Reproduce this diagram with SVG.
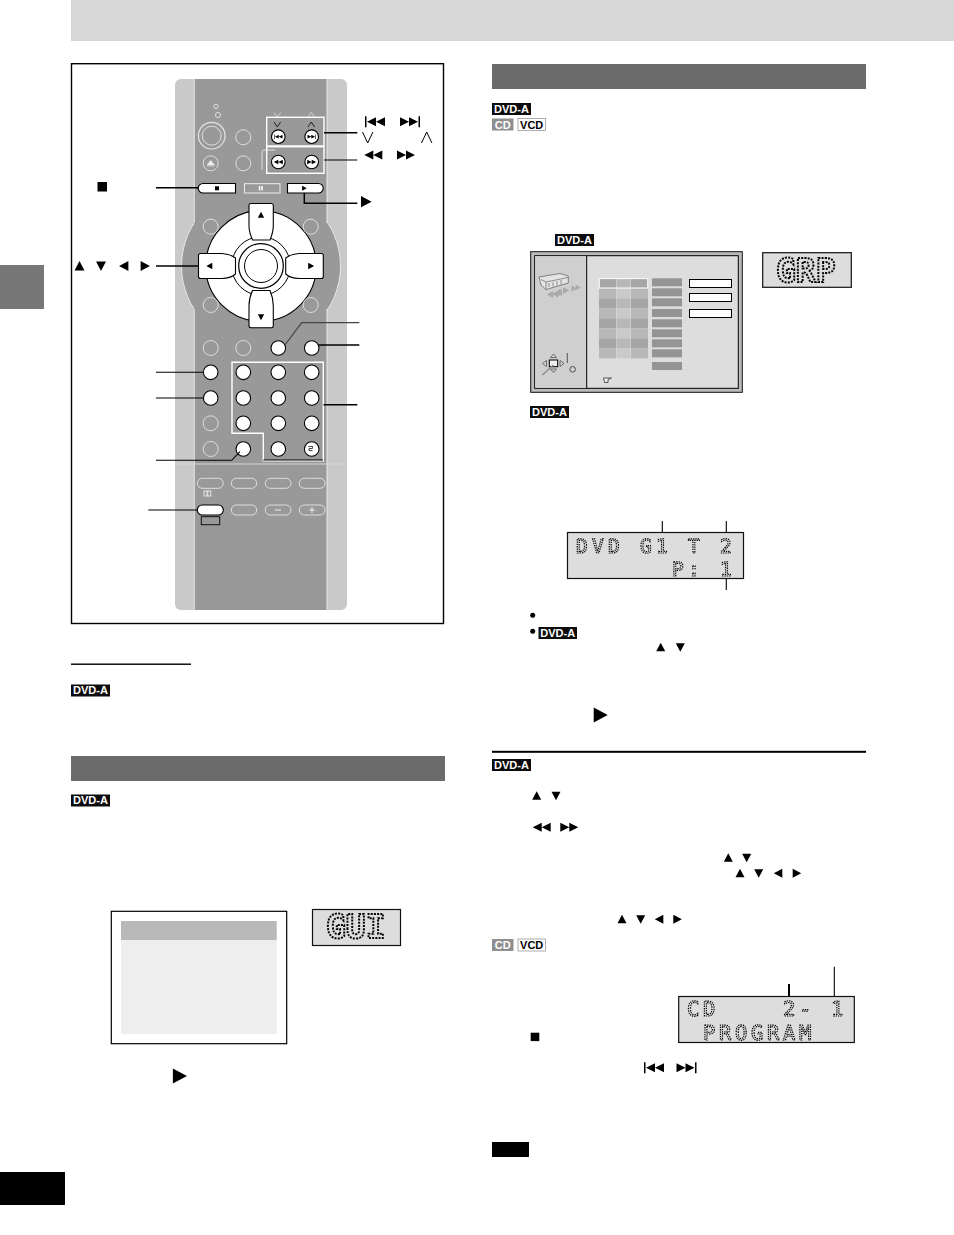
<svg xmlns="http://www.w3.org/2000/svg" width="954" height="1235" viewBox="0 0 954 1235">
<style>
.bar{fill:#6b6b6b}
.badge{fill:#0c0c0c}
.bt{font-family:"Liberation Sans",Arial,sans-serif;font-weight:bold;font-size:11px;fill:#fff;text-anchor:middle}
.vt{font-family:"Liberation Sans",Arial,sans-serif;font-weight:bold;font-size:11px;fill:#000;text-anchor:middle}
.on{fill:#fff;stroke:#000;stroke-width:1.1}
.off{fill:none;stroke:#e4e4e4;stroke-width:.9}
.wl{fill:none;stroke:#fff;stroke-width:1.4}
.ld{fill:none;stroke:#000;stroke-width:1.5}
.th{fill:none;stroke:#000;stroke-width:1.1}
.lcd{fill:#ddd;stroke:#111;stroke-width:1.2}
.dm{font-family:"DejaVu Sans Mono",monospace;font-size:19.5px;fill:none;stroke:#000;stroke-width:1.2;stroke-dasharray:1.3 1;letter-spacing:4.26px;text-rendering:geometricPrecision}
.dc{font-family:"DejaVu Sans Mono",monospace;font-size:20.5px;fill:none;stroke:#000;stroke-width:1.2;stroke-dasharray:1.3 1;letter-spacing:3.66px;text-rendering:geometricPrecision}
.db{font-family:"DejaVu Sans Mono",monospace;font-weight:bold;font-size:33px;fill:none;stroke:#000;stroke-width:2;stroke-dasharray:2 1.2;text-rendering:geometricPrecision}
.g1{fill:#a6a6a6}.g2{fill:#b8b8b8}.g3{fill:#cacaca}
.gb{fill:#949494}
</style>
<defs>
<filter id="gray" x="-5%" y="-5%" width="110%" height="110%" color-interpolation-filters="sRGB"><feOffset dx="0" dy="0"/></filter>
<polygon id="u" points="-4.5,4 0,-4.5 4.5,4"/>
<polygon id="d" points="-4.5,-4 0,4.5 4.5,-4"/>
<polygon id="l" points="4,-4.5 -4.5,0 4,4.5"/>
<polygon id="r" points="-4,-4.5 4.5,0 -4,4.5"/>
<path id="rr" d="M-9,-4.5 L0,0 L-9,4.5Z M0,-4.5 L9,0 L0,4.5Z"/>
<path id="ll" d="M9,-4.5 L0,0 L9,4.5Z M0,-4.5 L-9,0 L0,4.5Z"/>
<path id="nx" d="M-10,-4.5 L-1,0 L-10,4.5Z M-1,-4.5 L8,0 L-1,4.5Z M8.5,-5.5H10V5.5H8.5Z"/>
<path id="pv" d="M10,-4.5 L1,0 L10,4.5Z M1,-4.5 L-8,0 L1,4.5Z M-10,-5.5H-8.5V5.5H-10Z"/>
</defs>

<g id="page-bands">
<rect x="71" y="0" width="883" height="41" fill="#d7d7d7"/>
<rect x="0" y="265" width="44" height="44" fill="#777"/>
<rect x="0" y="1172" width="65" height="33" fill="#000"/>
<rect class="bar" x="492" y="64" width="374" height="25"/>
<rect class="bar" x="71" y="756" width="374" height="25"/>
<rect x="71" y="663.5" width="120" height="1.4" fill="#000"/>
<rect x="492" y="750.8" width="374" height="2" fill="#000"/>
</g>

<g id="badges">
<rect class="badge" x="492" y="103" width="39" height="12"/><text class="bt" x="511.5" y="112.8">DVD-A</text>
<rect x="492" y="118.5" width="21.5" height="12" fill="#8f8f8f"/><text class="bt" x="502.7" y="128.5">CD</text>
<rect x="518" y="118.5" width="27.5" height="12" fill="#fff" stroke="#999" stroke-width=".8"/><text class="vt" x="531.7" y="128.5">VCD</text>
<rect class="badge" x="555" y="234" width="39" height="12"/><text class="bt" x="574.5" y="243.8">DVD-A</text>
<rect class="badge" x="530" y="406" width="39" height="12"/><text class="bt" x="549.5" y="415.8">DVD-A</text>
<rect class="badge" x="538.5" y="627" width="38.5" height="12"/><text class="bt" x="557.7" y="636.8">DVD-A</text>
<rect class="badge" x="492" y="759" width="39" height="12"/><text class="bt" x="511.5" y="768.8">DVD-A</text>
<rect x="492" y="939" width="21.5" height="12" fill="#8f8f8f"/><text class="bt" x="502.7" y="949">CD</text>
<rect x="518" y="939" width="27.5" height="12" fill="#fff" stroke="#999" stroke-width=".8"/><text class="vt" x="531.7" y="949">VCD</text>
<rect class="badge" x="71" y="684.5" width="39" height="12"/><text class="bt" x="90.5" y="694.3">DVD-A</text>
<rect class="badge" x="71" y="794.5" width="39" height="12"/><text class="bt" x="90.5" y="804.3">DVD-A</text>
<rect x="492" y="1142" width="37" height="15" fill="#000"/>
</g>

<g id="remote">
<rect x="71.5" y="63.7" width="372" height="559.8" fill="#fff" stroke="#000" stroke-width="1.4"/>
<rect x="175" y="79" width="172" height="531" rx="6" fill="#c9c9c9"/>
<circle cx="261" cy="266" r="79.5" fill="#999" stroke="#e6e6e6" stroke-width="1"/>
<rect x="194" y="79" width="133" height="531" fill="#999"/>
<path d="M194.3 79V223M194.3 309V610M327 79V223M327 309V610" stroke="#eee" stroke-width=".9" fill="none"/>
<path d="M175 464H347" stroke="#d5d5d5" stroke-width="1"/>

<circle class="off" cx="216" cy="106.5" r="2.2"/>
<circle class="off" cx="218" cy="115" r="2.6"/>
<circle class="off" cx="211.7" cy="135.7" r="13.3" style="stroke-width:1.2"/>
<circle class="off" cx="211.7" cy="135.7" r="9.5"/>
<circle class="off" cx="243.3" cy="137.3" r="7.5"/>
<circle class="off" cx="210.7" cy="163.3" r="7.5"/>
<path d="M207 165 L210.7 160.5 L214.4 165Z M207 166H214.4" fill="#eee" stroke="#eee" stroke-width=".6"/>
<circle class="off" cx="243.3" cy="163.3" r="7.5"/>
<path d="M262 170V152Q262 150 264 150H275" fill="none" stroke="#e8e8e8" stroke-width=".9"/>
<path d="M274 112.5 L277.3 117 L280.6 112.5M308 117 L311.3 112.5 L314.6 117" fill="none" stroke="#eee" stroke-width=".7"/>
<path d="M274 122 L277.3 127 L280.6 122" fill="none" stroke="#111" stroke-width=".9"/>
<path d="M308 127 L311.3 122 L314.6 127" fill="none" stroke="#111" stroke-width=".9"/>

<g id="skip-buttons">
<circle class="on" cx="278.3" cy="136.7" r="6.8"/><use href="#pv" transform="translate(278.3 136.7) scale(.42)"/>
<circle class="on" cx="311.7" cy="136.7" r="6.8"/><use href="#nx" transform="translate(311.7 136.7) scale(.42)"/>
<circle class="on" cx="278.3" cy="162" r="6.8"/><use href="#ll" transform="translate(278.3 162) scale(.5)"/>
<circle class="on" cx="311.7" cy="162" r="6.8"/><use href="#rr" transform="translate(311.7 162) scale(.5)"/>
</g>
<rect class="wl" x="266.7" y="117.3" width="57.3" height="28.7"/>
<rect class="wl" x="266.7" y="146.7" width="57.3" height="26.6"/>

<g id="transport">
<path class="on" d="M203 183.5H235.5V193H203A4.7 4.7 0 0 1 203 183.5Z"/>
<rect x="215" y="186.3" width="4" height="4"/>
<rect x="244.5" y="183.7" width="35.5" height="9.3" fill="none" stroke="#eee" stroke-width="1"/>
<rect x="258.8" y="186" width="1.5" height="4.5" fill="#fff"/><rect x="261.3" y="186" width="1.5" height="4.5" fill="#fff"/>
<path class="on" d="M287.5 183.5H318.5A4.7 4.7 0 0 1 318.5 193H287.5Z"/>
<use href="#r" transform="translate(304.3 188.3) scale(.55)"/>
</g>

<g id="dial">
<circle cx="261" cy="266" r="55.3" fill="#fff" stroke="#000" stroke-width="1.1"/>
<circle cx="261" cy="266" r="29.3" fill="#fff" stroke="#000" stroke-width="1"/>
<circle cx="261" cy="266" r="22.3" fill="#fff" stroke="#000" stroke-width="1.2"/>
<circle cx="261" cy="266" r="16.5" fill="#fff" stroke="#000" stroke-width="1"/>
<path class="on" d="M249 205Q249 203.5 251 203.5H271.5Q273.3 203.5 273.3 205.5V226Q273.3 232 270 240H252.5Q249 232 249 226Z"/>
<use href="#u" transform="translate(261 215) scale(.7)"/>
<path class="on" d="M249 326Q249 327.7 251 327.7H271.5Q273.3 327.7 273.3 326V306Q273.3 298 270 290.5H252.5Q249 298 249 306Z"/>
<use href="#d" transform="translate(261 317) scale(.7)"/>
<path class="on" d="M198.5 255.5Q198.5 253.5 200.5 253.5H222Q230 254 235.5 258V274Q230 278.5 222 278.5H200.5Q198.5 278.5 198.5 276.5Z"/>
<use href="#l" transform="translate(209.5 266) scale(.7)"/>
<path class="on" d="M323.3 255.5Q323.3 253.5 321.3 253.5H299Q291 254 285.7 258V274Q291 278.5 299 278.5H321.3Q323.3 278.5 323.3 276.5Z"/>
<use href="#r" transform="translate(311 266) scale(.7)"/>
<circle class="off" cx="210.7" cy="226.7" r="7.5"/><circle class="off" cx="310.7" cy="226.7" r="7.5"/>
<circle class="off" cx="210.7" cy="305" r="7.5"/><circle class="off" cx="310.7" cy="305" r="7.5"/>
</g>

<g id="keypad">
<circle class="off" cx="210.7" cy="348" r="7.5"/><circle class="off" cx="243.3" cy="348" r="7.5"/>
<circle class="on" cx="278.3" cy="348" r="7.3"/><circle class="on" cx="311.7" cy="348" r="7.3"/>
<circle class="on" cx="210.7" cy="372.3" r="7.3"/><circle class="on" cx="243.3" cy="372.3" r="7.3"/><circle class="on" cx="278.3" cy="372.3" r="7.3"/><circle class="on" cx="311.7" cy="372.3" r="7.3"/>
<circle class="on" cx="210.7" cy="398" r="7.3"/><circle class="on" cx="243.3" cy="398" r="7.3"/><circle class="on" cx="278.3" cy="398" r="7.3"/><circle class="on" cx="311.7" cy="398" r="7.3"/>
<circle class="off" cx="210.7" cy="423.3" r="7.5"/><circle class="on" cx="243.3" cy="423.3" r="7.3"/><circle class="on" cx="278.3" cy="423.3" r="7.3"/><circle class="on" cx="311.7" cy="423.3" r="7.3"/>
<circle class="off" cx="210.7" cy="449" r="7.5"/><circle class="on" cx="243.3" cy="449" r="7.3"/><circle class="on" cx="278.3" cy="449" r="7.3"/><circle class="on" cx="311.7" cy="449" r="7.3"/>
<path d="M308.5 446.5H312.5V448.5H309V450.5H312.5" fill="none" stroke="#333" stroke-width=".9"/>
<path d="M232 362.3H323.3V460.7H263.3V433.3H232Z" class="wl"/>
<path d="M263.3 460H323" stroke="#000" stroke-width="1.2"/>
</g>

<g id="lower-buttons">
<rect class="off" x="197.3" y="478.3" width="26" height="10" rx="5"/><rect class="off" x="231.3" y="478.3" width="25.4" height="10" rx="5"/><rect class="off" x="265.3" y="478.3" width="25.7" height="10" rx="5"/><rect class="off" x="299.3" y="478.3" width="25.7" height="10" rx="5"/>
<rect x="197.3" y="505" width="26" height="10" rx="5" fill="#fff" stroke="#000" stroke-width="1.1"/>
<rect class="off" x="231.3" y="505" width="25.4" height="10" rx="5"/><rect class="off" x="265.3" y="505" width="25.7" height="10" rx="5"/><rect class="off" x="299.3" y="505" width="25.7" height="10" rx="5"/>
<path d="M275 510H281M309 510H315M312 507V513" stroke="#eee" stroke-width="1" fill="none"/>
<rect x="204" y="491" width="3" height="5" fill="none" stroke="#eee" stroke-width=".9"/><rect x="207.8" y="491" width="3" height="5" fill="none" stroke="#eee" stroke-width=".9"/>
<rect x="201.3" y="516.7" width="18.4" height="8" fill="none" stroke="#111" stroke-width="1"/>
</g>
</g>

<g id="connectors">
<path class="ld" d="M324 132.7H357.3"/>
<path class="th" d="M324 160H357.3"/>
<path class="ld" d="M156 187.7H198.3"/>
<path class="ld" d="M304.3 193V203.3H357.3"/>
<path class="ld" d="M156 266H198.3"/>
<path d="M359.3 322.7H301.7L285 345" fill="none" stroke="#444" stroke-width="1.2"/>
<path class="ld" d="M359.3 345H318.5"/>
<path class="th" d="M156 372.3H203"/>
<path class="th" d="M156 398H203"/>
<path class="th" d="M156 460.3H231.7L240 451.7"/>
<path class="ld" d="M323.5 404.7H357.3"/>
<path class="th" d="M148.3 510H197.5"/>
<path class="th" d="M662.3 521V532M726.3 521V532M726.3 578.5V590"/>
<path d="M789 984V996" stroke="#000" stroke-width="2"/>
<path class="th" d="M834.3 966.7V996"/>
</g>

<g id="symbols">
<rect x="97.5" y="182" width="9.5" height="9.5"/>
<use href="#u" transform="translate(79.5 266) scale(1.1)"/><use href="#d" transform="translate(101 266) scale(1.1)"/><use href="#l" transform="translate(124 266) scale(1.1)"/><use href="#r" transform="translate(145 266) scale(1.1)"/>
<use href="#pv" transform="translate(375 121.7)"/><use href="#nx" transform="translate(410 121.7)"/>
<path d="M362.5 132 L367.7 143 L372.9 132M421.5 143 L426.7 132 L431.9 143" fill="none" stroke="#000" stroke-width="1"/>
<use href="#ll" transform="translate(373.3 155)"/><use href="#rr" transform="translate(406 155)"/>
<use href="#r" transform="translate(366 201.7) scale(1.25)"/>
<use href="#r" transform="translate(179.5 1076) scale(1.65)"/>
<circle cx="532.7" cy="615.3" r="2.5"/><circle cx="532.7" cy="631.3" r="2.5"/>
<use href="#u" transform="translate(660.7 647.3)"/><use href="#d" transform="translate(680.3 647.3)"/>
<use href="#r" transform="translate(600.3 715) scale(1.65)"/>
<use href="#u" transform="translate(536.7 795.7)"/><use href="#d" transform="translate(556 795.7)"/>
<use href="#ll" transform="translate(541.7 827.3)"/><use href="#rr" transform="translate(569.3 827.3)"/>
<use href="#u" transform="translate(728.3 857.7)"/><use href="#d" transform="translate(746.7 857.7)"/>
<use href="#u" transform="translate(740 873.3)"/><use href="#d" transform="translate(758.7 873.3)"/><use href="#l" transform="translate(778.3 873.3)"/><use href="#r" transform="translate(796.7 873.3)"/>
<use href="#u" transform="translate(622 919.3)"/><use href="#d" transform="translate(640.7 919.3)"/><use href="#l" transform="translate(659.3 919.3)"/><use href="#r" transform="translate(677.3 919.3)"/>
<rect x="530.7" y="1032.7" width="8.6" height="8.4"/>
<use href="#pv" transform="translate(654 1067.7)"/><use href="#nx" transform="translate(686.5 1067.7)"/>
</g>

<g id="menu-left">
<rect x="111.3" y="911.3" width="175.4" height="132.4" fill="#fff" stroke="#000" stroke-width="1.2"/>
<rect x="121" y="921" width="155.7" height="113" fill="#eee"/>
<rect x="121" y="921" width="155.7" height="19" fill="#b9b9b9"/>
</g>
<g id="display-left">
<rect class="lcd" x="312.5" y="909.5" width="88" height="36"/>
<text class="db" x="326" y="938" filter="url(#gray)">GUI</text>
</g>

<g id="screen">
<rect x="530.7" y="251.7" width="211.6" height="140.6" fill="#bbb" stroke="#111" stroke-width="1"/>
<rect x="534.7" y="255.7" width="203.6" height="132.6" fill="#ddd" stroke="#000" stroke-width="1"/>
<rect x="535.2" y="256.2" width="51.5" height="131.6" fill="#cfcfcf"/>
<path d="M586.7 255.7V388.3" stroke="#000" stroke-width="1"/>
<g id="vcr-icon">
<path d="M539 277L560 273.5L568.3 276V283L546 289.5L541 285Z" fill="#e4e4e4" stroke="#777" stroke-width=".9"/>
<path d="M541 279.5L546 282L568 277.5M546 289.5V282M549 283V287M553 282V286.5M557 281V285.5M561 280V284.5" stroke="#777" stroke-width=".8" fill="none"/>
<g fill="#aaa"><use href="#l" transform="translate(550 294.5) scale(.75)"/><use href="#l" transform="translate(555 294) scale(.75)"/><rect x="558" y="289.5" width="4" height="6"/><use href="#r" transform="translate(566 290.5) scale(.75)"/><use href="#r" transform="translate(574 288.5) scale(.65)"/><use href="#r" transform="translate(578 287.5) scale(.6)"/></g>
</g>
<g id="cursor-icon" fill="none" stroke="#555" stroke-width=".8">
<rect x="549.3" y="360" width="8.4" height="6.7" stroke="#000" fill="#eee" stroke-width="1"/>
<path d="M550.5 357.5L553.5 354L556.5 357.5ZM550.5 369L553.5 372.5L556.5 369ZM546.5 360.5L542.5 363.5L546.5 366.5ZM560 360.5L564 363.5L560 366.5Z"/>
<path d="M567.3 353V363" stroke="#333"/><path d="M542.3 375L553.3 365" stroke="#888" stroke-width="1.2"/>
<circle cx="572.7" cy="369.3" r="2.8" stroke="#333"/>
<path d="M603.5 378H611.5L608 379.5V382.5H604.5Z" stroke="#333" fill="#eee"/>
</g>
<g id="grid">
<rect class="g1" x="599" y="278.3" width="17" height="10"/><rect class="g2" x="616.5" y="278.3" width="14" height="10"/><rect class="g1" x="631" y="278.3" width="17" height="10"/>
<rect class="g2" x="599" y="288.3" width="17" height="10"/><rect class="g3" x="616.5" y="288.3" width="14" height="10"/><rect class="g2" x="631" y="288.3" width="17" height="10"/>
<rect class="g1" x="599" y="298.3" width="17" height="10"/><rect class="g2" x="616.5" y="298.3" width="14" height="10"/><rect class="g1" x="631" y="298.3" width="17" height="10"/>
<rect class="g2" x="599" y="308.3" width="17" height="10"/><rect class="g3" x="616.5" y="308.3" width="14" height="10"/><rect class="g2" x="631" y="308.3" width="17" height="10"/>
<rect class="g1" x="599" y="318.3" width="17" height="10"/><rect class="g2" x="616.5" y="318.3" width="14" height="10"/><rect class="g1" x="631" y="318.3" width="17" height="10"/>
<rect class="g2" x="599" y="328.3" width="17" height="10"/><rect class="g3" x="616.5" y="328.3" width="14" height="10"/><rect class="g2" x="631" y="328.3" width="17" height="10"/>
<rect class="g1" x="599" y="338.3" width="17" height="10"/><rect class="g2" x="616.5" y="338.3" width="14" height="10"/><rect class="g1" x="631" y="338.3" width="17" height="10"/>
<rect class="g2" x="599" y="348.3" width="17" height="10"/><rect class="g3" x="616.5" y="348.3" width="14" height="10"/><rect class="g2" x="631" y="348.3" width="17" height="10"/>
<rect x="599.3" y="278.6" width="48.4" height="9.4" fill="none" stroke="#fff" stroke-width="1"/>
</g>
<g id="bars">
<rect class="gb" x="652" y="278.3" width="30" height="8"/><rect class="gb" x="652" y="288.3" width="30" height="8"/><rect class="gb" x="652" y="298.3" width="30" height="8"/><rect class="gb" x="652" y="309" width="30" height="8"/><rect class="gb" x="652" y="319.3" width="30" height="8"/><rect class="gb" x="652" y="329.3" width="30" height="8"/><rect class="gb" x="652" y="339.3" width="30" height="8"/><rect class="gb" x="652" y="349.3" width="30" height="8"/><rect class="gb" x="652" y="362" width="30" height="8"/>
</g>
<rect x="689.5" y="279.5" width="42" height="8" fill="#fff" stroke="#000"/>
<rect x="689.5" y="293.5" width="42" height="8" fill="#fff" stroke="#000"/>
<rect x="689.5" y="309.5" width="42" height="8" fill="#fff" stroke="#000"/>
</g>
<g id="display-right">
<rect class="lcd" x="762.7" y="252.7" width="88.6" height="34.6"/>
<text class="db" x="776" y="282" filter="url(#gray)">GRP</text>
</g>

<g id="display-dvd">
<rect class="lcd" x="567.5" y="532.5" width="176" height="46"/>
<g filter="url(#gray)">
<text class="dm" x="576" y="553">DVD G1 T 2</text>
<text class="dm" x="672" y="576">P: 1</text>
</g>
</g>
<g id="display-cd">
<rect class="lcd" x="678.7" y="996.5" width="175.6" height="46"/>
<g filter="url(#gray)">
<text class="dc" x="687" y="1016" xml:space="preserve">CD    2- 1</text>
<text class="dc" x="703" y="1040">PROGRAM</text>
</g>
</g>
</svg>
